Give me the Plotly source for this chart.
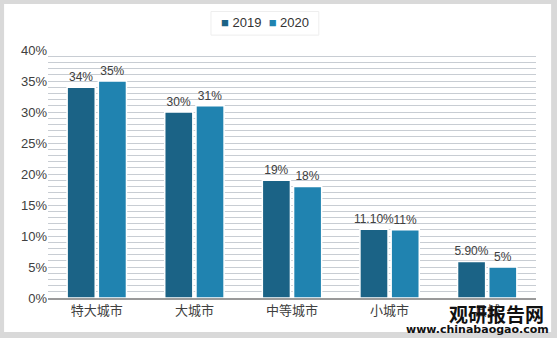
import plotly.graph_objects as go

categories = ["特大城市", "大城市", "中等城市", "小城市", "县城"]
values_2019 = [0.34, 0.30, 0.19, 0.111, 0.059]
values_2020 = [0.35, 0.31, 0.18, 0.11, 0.05]
labels_2019 = ["34%", "30%", "19%", "11.10%", "5.90%"]
labels_2020 = ["35%", "31%", "18%", "11%", "5%"]
series_names = ["2019", "2020"]
colors = ["#1b6386", "#2083b0"]

font = "Liberation Sans, Arial, Noto Sans CJK SC, sans-serif"

fig = go.Figure()
for name, vals, labs, col in zip(series_names, [values_2019, values_2020],
                                 [labels_2019, labels_2020], colors):
    fig.add_trace(go.Bar(
        name=name, x=categories, y=vals, text=labs,
        textposition="outside", cliponaxis=False, constraintext="none",
        marker=dict(color=col, line=dict(color="#ffffff", width=1.5)),
        textfont=dict(size=12, color="#404040", family=font),
    ))

shapes = [
    dict(type="rect", xref="paper", yref="paper", x0=-0.09, x1=1.031, y0=-0.137, y1=1.185,
         fillcolor="#ffffff", line=dict(width=0), layer="below"),
    # legend box
    dict(type="rect", xref="paper", yref="paper", x0=0.334, x1=0.555, y0=1.06, y1=1.155,
         fillcolor="#ffffff", line=dict(color="#eeeeee", width=1), layer="below"),
]

legend_text = (f"<span style='color:{colors[0]}'>■</span> {series_names[0]}  "
               f"<span style='color:{colors[1]}'>■</span> {series_names[1]}")

fig.update_layout(
    width=557, height=338,
    margin=dict(l=48, r=21, t=50, b=40, autoexpand=False),
    paper_bgcolor="#d9d9d9",
    plot_bgcolor="#e3e7ec",
    barmode="group", bargap=0.36, bargroupgap=0.1,
    font=dict(family=font, size=12, color="#404040"),
    showlegend=False,
    shapes=shapes,
    xaxis=dict(showline=True, linecolor="#9a9a9a", linewidth=1.5, ticks="",
               tickfont=dict(size=13, color="#404040")),
    yaxis=dict(range=[0, 0.40], dtick=0.05, tickformat=".0%", showgrid=True,
               gridcolor="#c8cdd3", gridwidth=1, zeroline=False, ticks="",
               tickfont=dict(size=13, color="#404040"),
               minor=dict(dtick=0.01, showgrid=True, gridcolor="#c8cdd3", gridwidth=1)),
    annotations=[
        dict(text=legend_text, xref="paper", yref="paper", x=0.445, y=1.11,
             xanchor="center", yanchor="middle", showarrow=False,
             font=dict(size=13, color="#333333", family=font)),
        dict(text="<b>观研报告网</b>", xref="paper", yref="paper", x=1.02, y=0.0,
             xanchor="right", yanchor="top", showarrow=False,
             font=dict(size=19, color="#111111", family="Noto Sans CJK SC")),
        dict(text="<b>www.chinabaogao.com</b>", xref="paper", yref="paper", x=1.03, y=-0.125,
             xanchor="right", yanchor="middle", showarrow=False,
             font=dict(size=11, color="#111111", family="DejaVu Sans")),
    ],
)

fig.write_html("out.html")
